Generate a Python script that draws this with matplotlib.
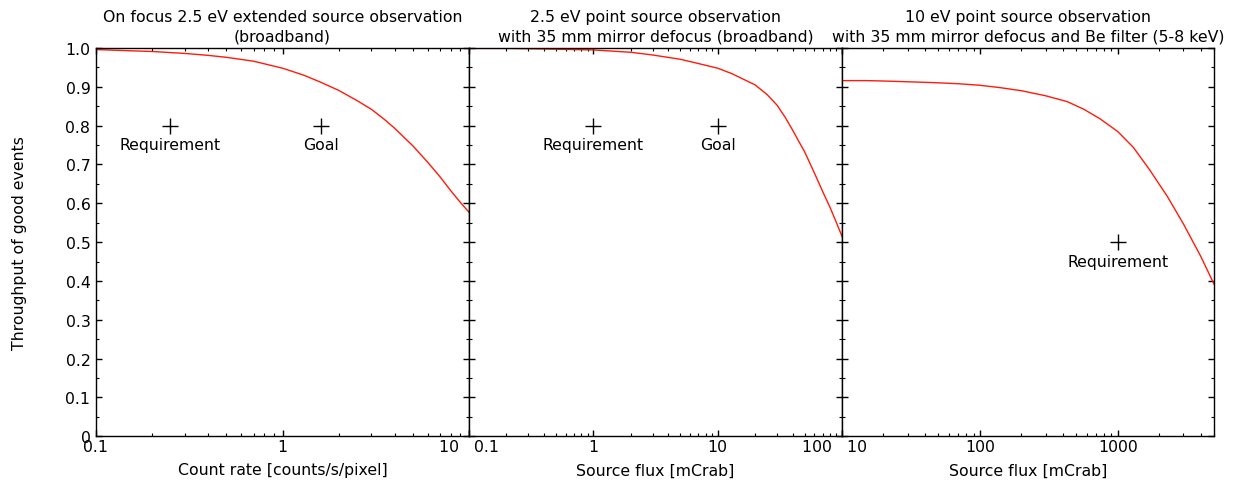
import matplotlib
matplotlib.use("Agg")
import matplotlib.pyplot as plt
from matplotlib.ticker import NullFormatter, LogLocator, MultipleLocator

plt.rcParams['font.family'] = ['DejaVu Sans']

# Panel 1: on-focus extended source
rate_x = [0.1, 0.15, 0.2, 0.3, 0.4, 0.5, 0.7, 1.0, 1.3, 1.6, 2.0, 2.5, 3.0, 3.5, 4.0,
          5.0, 6.0, 7.0, 8.0, 9.0, 10.0]
rate_y = [0.996, 0.993, 0.991, 0.986, 0.981, 0.976, 0.966, 0.948, 0.930, 0.912, 0.891,
          0.865, 0.842, 0.817, 0.793, 0.748, 0.706, 0.668, 0.632, 0.602, 0.577]

# Panel 2: 2.5 eV point source, defocus
flux2_x = [0.1, 0.2, 0.5, 1.0, 2.0, 3.0, 5.0, 7.0, 10.0, 13.0, 16.0, 20.0, 25.0, 30.0,
           35.0, 40.0, 45.0, 50.0, 60.0, 70.0, 80.0, 90.0, 100.0]
flux2_y = [0.999, 0.999, 0.997, 0.995, 0.989, 0.982, 0.971, 0.960, 0.948, 0.934, 0.920,
           0.905, 0.880, 0.853, 0.821, 0.789, 0.759, 0.733, 0.678, 0.630, 0.590, 0.551, 0.515]

# Panel 3: 10 eV point source, defocus + Be filter
flux3_x = [10, 15, 20, 30, 45, 70, 100, 140, 200, 300, 430, 570, 750, 1000, 1300, 1700,
           2300, 3000, 4000, 5000]
flux3_y = [0.916, 0.916, 0.915, 0.913, 0.911, 0.908, 0.904, 0.898, 0.890, 0.877, 0.862,
           0.842, 0.817, 0.785, 0.744, 0.687, 0.617, 0.547, 0.464, 0.392]

titles = ["On focus 2.5 eV extended source observation\n(broadband)",
          "2.5 eV point source observation\nwith 35 mm mirror defocus (broadband)",
          "10 eV point source observation\nwith 35 mm mirror defocus and Be filter (5-8 keV)"]
xlabels = ["Count rate [counts/s/pixel]", "Source flux [mCrab]", "Source flux [mCrab]"]
xlims = [(0.1, 10), (0.1, 100), (10, 5000)]
xticks = [[0.1, 1, 10], [0.1, 1, 10, 100], [10, 100, 1000]]
xticklabels = [["0.1", "1", "10"], ["0.1", "1", "10", "100"], ["10", "100", "1000"]]

markers = [
    [(0.25, 0.8, "Requirement"), (1.6, 0.8, "Goal")],
    [(1.0, 0.8, "Requirement"), (10.0, 0.8, "Goal")],
    [(1000.0, 0.5, "Requirement")],
]

yticks = [0, 0.1, 0.2, 0.3, 0.4, 0.5, 0.6, 0.7, 0.8, 0.9, 1.0]
yticklabels = ["0", "0.1", "0.2", "0.3", "0.4", "0.5", "0.6", "0.7", "0.8", "0.9", "1.0"]

fig = plt.figure(figsize=(12.35, 4.85), dpi=100)
W, H = 1235, 485
lefts = [96, 469, 842]
right_edges = [469, 842, 1214]
top, bottom = 49, 437.3

series = [(rate_x, rate_y), (flux2_x, flux2_y), (flux3_x, flux3_y)]
fs = 11.3
for i in range(3):
    l = lefts[i] / W
    w = (right_edges[i] - lefts[i]) / W
    ax = fig.add_axes([l, 1 - bottom / H, w, (bottom - top) / H])
    ax.set_xscale("log")
    ax.set_xlim(*xlims[i])
    ax.set_ylim(0, 1.0)
    x, y = series[i]
    ax.plot(x, y, color="#ff1a0a", lw=1.0)
    for (mx, my, lab) in markers[i]:
        ax.plot([mx], [my], marker="+", color="black", ms=11, mew=1.0, ls="none")
        ax.annotate(lab, (mx, my), xytext=(0, -8.5), textcoords="offset points",
                    ha="center", va="top", fontsize=fs)
    labs = list(xticklabels[i])
    if i > 0:
        labs[0] = " " + labs[0]
    if i < 2:
        labs[-1] = labs[-1] + "  "
    ax.set_xticks(xticks[i])
    ax.set_xticklabels(labs, fontsize=fs)
    tl = ax.get_xticklabels()
    if i > 0:
        tl[0].set_horizontalalignment("left")
    if i < 2:
        tl[-1].set_horizontalalignment("right")
    ax.xaxis.set_minor_locator(LogLocator(base=10, subs=range(2, 10), numticks=20))
    ax.xaxis.set_minor_formatter(NullFormatter())
    ax.set_yticks(yticks)
    ax.yaxis.set_minor_locator(MultipleLocator(0.05))
    if i == 0:
        ax.set_yticklabels(yticklabels, fontsize=fs)
        ax.set_ylabel("Throughput of good events", fontsize=fs, labelpad=28)
    else:
        ax.set_yticklabels([])
    ax.tick_params(which="both", direction="in", top=True, right=True)
    ax.tick_params(which="major", length=4.5, width=1.0, pad=2)
    ax.tick_params(which="minor", length=2.3, width=0.8)
    ax.tick_params(axis="y", which="major", pad=4)
    ax.set_xlabel(xlabels[i], fontsize=fs, labelpad=6)
    ax.set_title(titles[i], fontsize=fs, pad=5.5, linespacing=1.4)
    for s in ax.spines.values():
        s.set_linewidth(1.0)

fig.savefig("out.png", dpi=100)
